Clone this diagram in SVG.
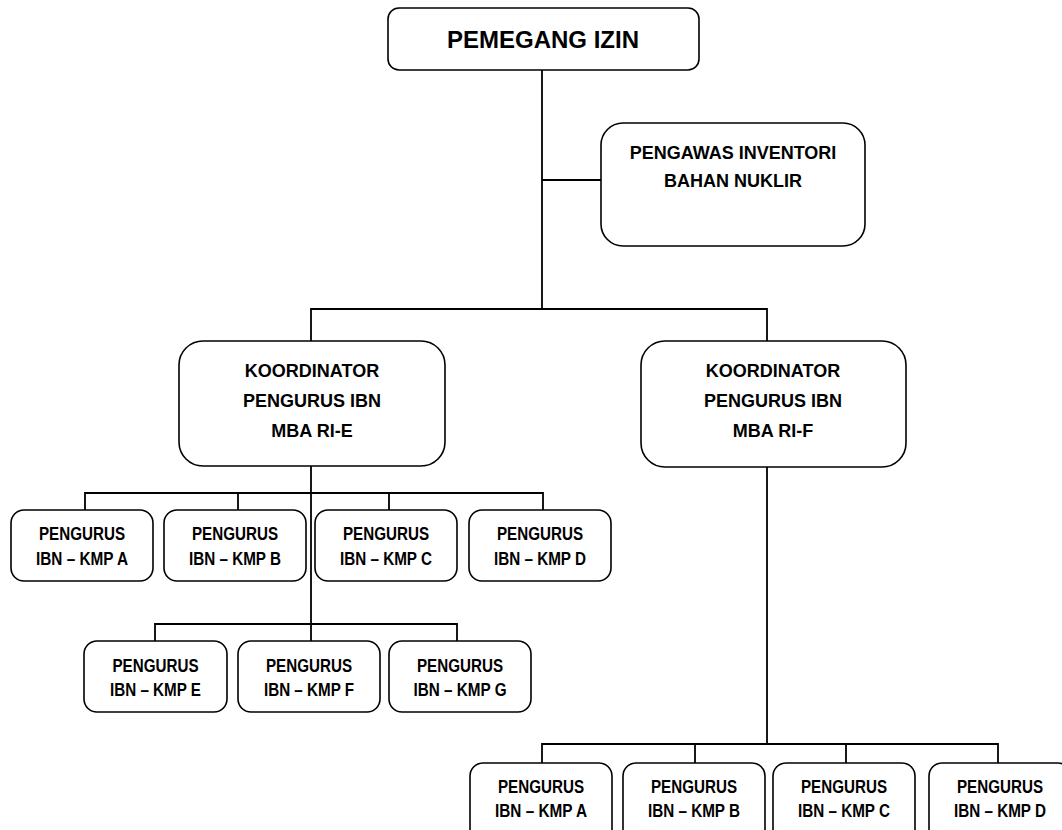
<svg xmlns="http://www.w3.org/2000/svg" width="1062" height="830" viewBox="0 0 1062 830">
<style>
.box{fill:#fff;stroke:#000;stroke-width:1.6}
.ln{fill:none;stroke:#000;stroke-width:1.8}
.big{font-family:"Liberation Sans",Arial,sans-serif;font-weight:bold;font-size:24px;text-anchor:middle;fill:#000}
.mid{font-family:"Liberation Sans",Arial,sans-serif;font-weight:bold;font-size:18px;text-anchor:middle;fill:#000}
.sm{font-family:"Liberation Sans",Arial,sans-serif;font-weight:bold;font-size:18px;text-anchor:middle;fill:#000}
</style>
<rect width="1062" height="830" fill="#fff"/>
<g id="connectors" class="ln">
<path d="M542 70V309M542 180H601M311 341V309H767V341"/>
<path d="M311 466V641M85 510V493H543V510M238 493V510M389 493V510"/>
<path d="M155 641V624H457V641"/>
<path d="M767 467V744M542 763V744H998V763M695 744V763M846 744V763"/>
</g>
<g id="pemegang-izin">
<rect class="box" x="388" y="8" width="311" height="62" rx="11"/>
<text class="big" x="543" y="48">PEMEGANG IZIN</text>
</g>
<g id="pengawas">
<rect class="box" x="601" y="123" width="264" height="123" rx="22"/>
<text class="mid" x="733" y="159">PENGAWAS INVENTORI</text>
<text class="mid" x="733" y="187">BAHAN NUKLIR</text>
</g>
<g id="koordinator-e">
<rect class="box" x="179" y="341" width="266" height="125" rx="24"/>
<text class="mid" x="312" y="377">KOORDINATOR</text>
<text class="mid" x="312" y="407">PENGURUS IBN</text>
<text class="mid" x="312" y="437">MBA RI-E</text>
</g>
<g id="koordinator-f">
<rect class="box" x="641" y="341" width="265" height="126" rx="24"/>
<text class="mid" x="773" y="377">KOORDINATOR</text>
<text class="mid" x="773" y="407">PENGURUS IBN</text>
<text class="mid" x="773" y="437">MBA RI-F</text>
</g>
<g id="e-kmp-a">
<rect class="box" x="11" y="510" width="142" height="71" rx="13"/>
<text class="sm" x="82" y="540" textLength="86" lengthAdjust="spacingAndGlyphs">PENGURUS</text>
<text class="sm" x="82" y="565" textLength="92" lengthAdjust="spacingAndGlyphs">IBN – KMP A</text>
</g>
<g id="e-kmp-b">
<rect class="box" x="164" y="510" width="142" height="71" rx="13"/>
<text class="sm" x="235" y="540" textLength="86" lengthAdjust="spacingAndGlyphs">PENGURUS</text>
<text class="sm" x="235" y="565" textLength="92" lengthAdjust="spacingAndGlyphs">IBN – KMP B</text>
</g>
<g id="e-kmp-c">
<rect class="box" x="315" y="510" width="142" height="71" rx="13"/>
<text class="sm" x="386" y="540" textLength="86" lengthAdjust="spacingAndGlyphs">PENGURUS</text>
<text class="sm" x="386" y="565" textLength="92" lengthAdjust="spacingAndGlyphs">IBN – KMP C</text>
</g>
<g id="e-kmp-d">
<rect class="box" x="469" y="510" width="142" height="71" rx="13"/>
<text class="sm" x="540" y="540" textLength="86" lengthAdjust="spacingAndGlyphs">PENGURUS</text>
<text class="sm" x="540" y="565" textLength="92" lengthAdjust="spacingAndGlyphs">IBN – KMP D</text>
</g>
<g id="e-kmp-e">
<rect class="box" x="84" y="641" width="143" height="71" rx="13"/>
<text class="sm" x="155.5" y="672" textLength="86" lengthAdjust="spacingAndGlyphs">PENGURUS</text>
<text class="sm" x="155.5" y="696" textLength="91" lengthAdjust="spacingAndGlyphs">IBN – KMP E</text>
</g>
<g id="e-kmp-f">
<rect class="box" x="238" y="641" width="142" height="71" rx="13"/>
<text class="sm" x="309" y="672" textLength="86" lengthAdjust="spacingAndGlyphs">PENGURUS</text>
<text class="sm" x="309" y="696" textLength="90" lengthAdjust="spacingAndGlyphs">IBN – KMP F</text>
</g>
<g id="e-kmp-g">
<rect class="box" x="389" y="641" width="142" height="71" rx="13"/>
<text class="sm" x="460" y="672" textLength="86" lengthAdjust="spacingAndGlyphs">PENGURUS</text>
<text class="sm" x="460" y="696" textLength="93" lengthAdjust="spacingAndGlyphs">IBN – KMP G</text>
</g>
<g id="f-kmp-a">
<rect class="box" x="470" y="763" width="142" height="80" rx="13"/>
<text class="sm" x="541" y="793" textLength="86" lengthAdjust="spacingAndGlyphs">PENGURUS</text>
<text class="sm" x="541" y="817" textLength="92" lengthAdjust="spacingAndGlyphs">IBN – KMP A</text>
</g>
<g id="f-kmp-b">
<rect class="box" x="623" y="763" width="142" height="80" rx="13"/>
<text class="sm" x="694" y="793" textLength="86" lengthAdjust="spacingAndGlyphs">PENGURUS</text>
<text class="sm" x="694" y="817" textLength="92" lengthAdjust="spacingAndGlyphs">IBN – KMP B</text>
</g>
<g id="f-kmp-c">
<rect class="box" x="773" y="763" width="142" height="80" rx="13"/>
<text class="sm" x="844" y="793" textLength="86" lengthAdjust="spacingAndGlyphs">PENGURUS</text>
<text class="sm" x="844" y="817" textLength="92" lengthAdjust="spacingAndGlyphs">IBN – KMP C</text>
</g>
<g id="f-kmp-d">
<rect class="box" x="929" y="763" width="142" height="80" rx="13"/>
<text class="sm" x="1000" y="793" textLength="86" lengthAdjust="spacingAndGlyphs">PENGURUS</text>
<text class="sm" x="1000" y="817" textLength="92" lengthAdjust="spacingAndGlyphs">IBN – KMP D</text>
</g>
</svg>
